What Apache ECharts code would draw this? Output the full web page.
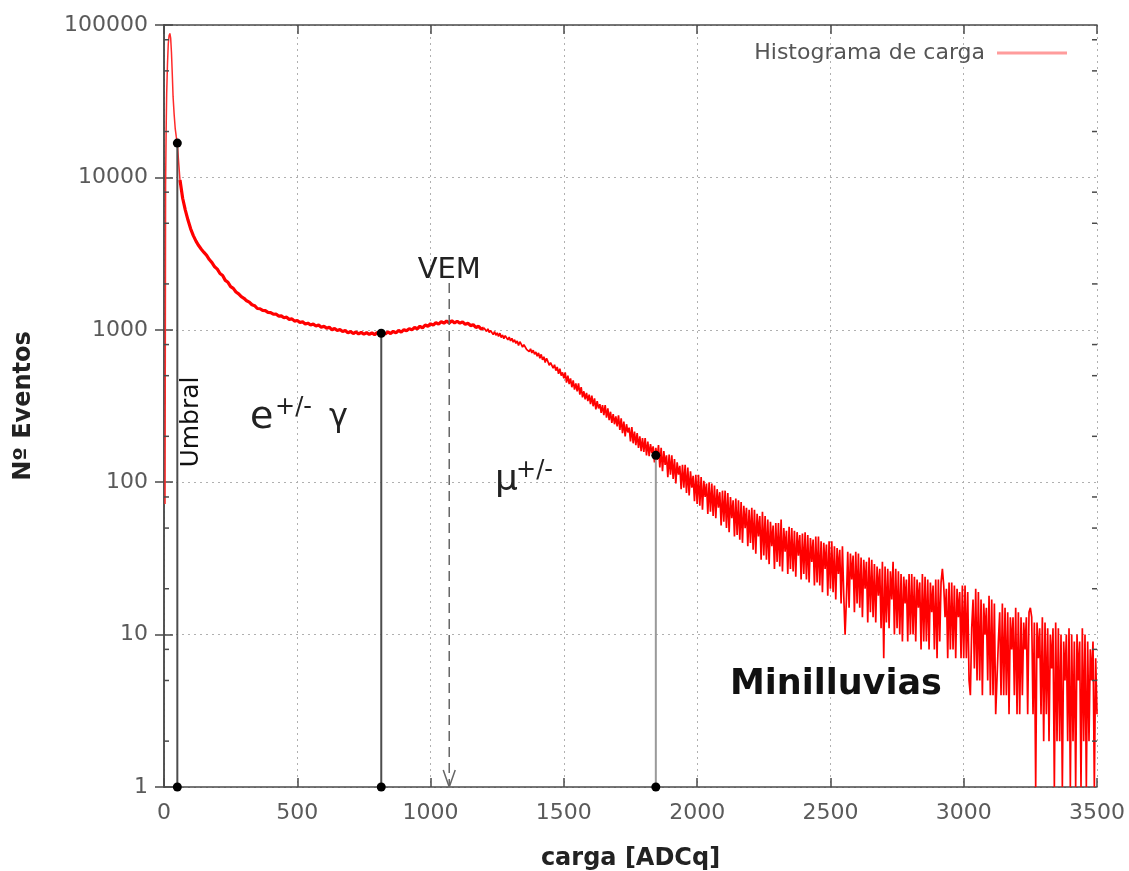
<!DOCTYPE html>
<html>
<head>
<meta charset="utf-8">
<script src="https://cdn.jsdelivr.net/npm/echarts@6/dist/echarts.min.js"></script>
<style>
  html, body { margin: 0; padding: 0; background: #fff; }
  #grafico { width: 1129px; height: 871px; }
</style>
</head>
<body>
<div id="grafico"></div>
<script>
// Histograma de carga (ADCq) — pico de bajo umbral
const cargaPico = [4, 6, 8, 10, 13, 16, 19, 22, 25, 28, 31, 34, 38, 42, 46, 50, 55, 60];
const eventosPico = [72, 9000, 20000, 35000, 55000, 75000, 85000, 88000, 82000, 66000, 48000, 34000, 26000, 21000, 18500, 16800, 12500, 9600];

// Cuerpo del histograma: bines de 10 ADCq desde 70 hasta 1200
const inicioCuerpo = 70;
const pasoCuerpo = 10;
const eventosCuerpo = [
  7300, 6100, 5250, 4600, 4150, 3820, 3570, 3380, 3220,
  3080, 2890, 2760, 2590, 2500, 2340, 2270, 2110, 2050, 1920,
  1870, 1770, 1720, 1650, 1610, 1550, 1520, 1460, 1440, 1380,
  1375, 1340, 1335, 1300, 1295, 1265, 1270, 1230, 1235, 1200,
  1210, 1170, 1180, 1140, 1150, 1115, 1130, 1090, 1105, 1075,
  1090, 1060, 1075, 1040, 1055, 1025, 1040, 1000, 1020, 990,
  1005, 975, 990, 955, 975, 945, 968, 940, 962, 935,
  958, 932, 955, 930, 958, 935, 962, 940, 968, 945,
  978, 955, 990, 965, 1002, 985, 1018, 998, 1035, 1015,
  1055, 1030, 1075, 1055, 1095, 1072, 1115, 1090, 1130, 1105,
  1140, 1108, 1145, 1110, 1138, 1105, 1128, 1085, 1105, 1065,
  1080, 1035, 1055, 1010, 1030
];

// Cola del histograma: bines de 5 ADCq desde 1205 hasta 3500
const inicioCola = 1205;
const pasoCola = 5;
const eventosCola = [
  1040, 975, 1015, 960, 990, 1000, 930, 975, 920, 955,
  905, 950, 890, 925, 875, 915, 905, 860, 895, 845,
  880, 830, 860, 815, 845, 790, 835, 805, 770, 800,
  790, 745, 765, 720, 750, 705, 735, 690, 715, 670,
  705, 650, 690, 635, 665, 610, 650, 620, 585, 610,
  625, 560, 590, 540, 570, 515, 555, 500, 525, 480,
  525, 450, 500, 440, 480, 420, 465, 405, 445, 395,
  445, 375, 420, 360, 395, 350, 385, 340, 375, 325,
  370, 315, 355, 300, 340, 305, 325, 285, 320, 275,
  320, 265, 305, 255, 290, 245, 280, 240, 270, 232,
  275, 220, 262, 210, 250, 200, 240, 212, 228, 185,
  230, 180, 215, 175, 210, 168, 200, 160, 195, 158,
  195, 150, 185, 148, 178, 155, 172, 135, 168, 140,
  175, 125, 168, 118, 160, 130, 150, 108, 152, 112,
  150, 105, 142, 98, 135, 112, 128, 90, 130, 92,
  130, 85, 125, 82, 118, 92, 110, 75, 112, 72,
  112, 70, 108, 66, 102, 80, 98, 62, 100, 64,
  98, 60, 95, 58, 90, 68, 86, 52, 88, 55,
  88, 50, 85, 47, 80, 58, 76, 44, 78, 45,
  76, 42, 74, 40, 70, 50, 68, 38, 66, 40,
  68, 36, 66, 34, 62, 44, 60, 31, 64, 33,
  60, 31, 57, 29, 55, 38, 52, 27, 54, 30,
  54, 28, 57, 26, 50, 35, 48, 25, 51, 27,
  50, 26, 48, 24, 47, 33, 45, 23, 46, 25,
  47, 23, 45, 22, 43, 30, 42, 21, 44, 22,
  44, 21, 41, 19, 40, 27, 39, 18, 41, 20,
  41, 19, 38, 17, 37, 25, 36, 16, 38, 18,
  10, 17, 35, 15, 34, 23, 33, 14, 35, 16,
  34, 15, 32, 13, 31, 20, 30, 12, 32, 14,
  31, 13, 29, 12, 28, 18, 27, 11, 30, 7,
  28, 12, 27, 11, 26, 17, 30, 10, 27, 11,
  26, 10, 25, 9, 24, 16, 23, 9, 25, 10,
  25, 10, 24, 9, 23, 15, 22, 8, 25, 9,
  24, 9, 23, 8, 22, 14, 21, 8, 23, 7,
  23, 9, 22, 27, 21, 13, 20, 7, 22, 8,
  22, 8, 21, 7, 20, 13, 19, 7, 21, 7,
  21, 7, 19, 5, 4, 11, 17, 6, 20, 5,
  19, 5, 17, 4, 16, 10, 15, 5, 18, 4,
  17, 4, 16, 3, 3, 9, 14, 4, 16, 4,
  15, 4, 14, 3, 13, 8, 13, 4, 15, 3,
  14, 3, 13, 4, 12, 8, 13, 3, 14, 15,
  13, 3, 12, 1, 12, 7, 11, 3, 13, 2,
  12, 3, 11, 2, 10, 6, 11, 1, 12, 2,
  11, 2, 10, 1, 9, 5, 10, 2, 11, 1,
  10, 2, 9, 1, 10, 5, 9, 1, 11, 2,
  10, 1, 9, 2, 8, 5, 9, 1, 7, 3
];

// Cortes marcados sobre el histograma: [carga, eventos]
const cortes = [[50, 16800], [815, 950], [1845, 150]];
// Posición del VEM: [carga, altura de la flecha]
const vem = [1070, 2030];

// Marcas del eje Y
const ticksY = [1, 10, 100, 1000, 10000, 100000];
const ticksMenoresY = [2, 5, 8, 20, 50, 80, 200, 500, 800, 2000, 5000, 8000, 20000, 50000, 80000];

const FUENTE = 'DejaVu Sans';
const X_MIN = 0, X_MAX = 3500;
const NOMBRE = 'Histograma de carga';

const datosPico = cargaPico.map((c, i) => [c, eventosPico[i]]);
const datosCuerpo = [datosPico[datosPico.length - 1]]
  .concat(eventosCuerpo.map((v, i) => [inicioCuerpo + i * pasoCuerpo, v]));
const datosCola = [datosCuerpo[datosCuerpo.length - 1]]
  .concat(eventosCola.map((v, i) => [inicioCola + i * pasoCola, v]));

const chart = echarts.init(document.getElementById('grafico'), null, { renderer: 'canvas' });

const ejeComun = {
  axisLine: { show: true, lineStyle: { color: '#4a4a4a', width: 1.5 } },
  axisTick: { show: true, inside: true, length: 9, lineStyle: { color: '#4a4a4a', width: 1.5 } }
};
const rejilla = { show: true, lineStyle: { color: '#b0b0b0', type: [2, 4], width: 1 } };
const tramo = (datos, ancho, color) => ({
  name: NOMBRE, type: 'line', data: datos, showSymbol: false, symbol: 'none',
  color: '#ff0000', lineStyle: { color: color, width: ancho }, z: 2
});

const option = {
  animation: false,
  backgroundColor: '#fff',
  grid: { left: 164, right: 32, top: 25, bottom: 84, containLabel: false, outerBoundsMode: 'none' },
  legend: {
    right: 57,
    top: 37,
    align: 'right',
    itemWidth: 70,
    itemHeight: 3,
    textStyle: { fontFamily: FUENTE, fontSize: 22, color: '#555', padding: [0, 7, 0, 0] },
    data: [{ name: NOMBRE, icon: 'rect', itemStyle: { color: '#ff9c9c' } }]
  },
  xAxis: [
    Object.assign({
      type: 'value', min: X_MIN, max: X_MAX, interval: 500, position: 'bottom',
      name: 'carga [ADCq]', nameLocation: 'middle', nameGap: 60,
      nameTextStyle: { fontFamily: FUENTE, fontSize: 24, fontWeight: 'bold', color: '#222' },
      axisLabel: { fontFamily: FUENTE, fontSize: 22, color: '#5a5a5a', margin: 15, formatter: v => String(v) },
      splitLine: rejilla
    }, ejeComun),
    Object.assign({
      type: 'value', min: X_MIN, max: X_MAX, interval: 500, position: 'top',
      axisLabel: { show: false }, splitLine: { show: false }
    }, ejeComun)
  ],
  yAxis: [
    Object.assign({
      type: 'log', logBase: 10, min: ticksY[0], max: ticksY[ticksY.length - 1], position: 'left',
      name: 'Nº Eventos', nameLocation: 'middle', nameGap: 128,
      nameTextStyle: { fontFamily: FUENTE, fontSize: 24, fontWeight: 'bold', color: '#222' },
      axisLabel: { fontFamily: FUENTE, fontSize: 22, color: '#5a5a5a', margin: 16, formatter: v => String(Math.round(v)) },
      splitLine: rejilla
    }, ejeComun),
    Object.assign({
      type: 'log', logBase: 10, min: ticksY[0], max: ticksY[ticksY.length - 1], position: 'right',
      axisLabel: { show: false }, splitLine: { show: false }
    }, ejeComun)
  ],
  series: [
    tramo(datosPico, 1.5, '#ff2a2a'),
    tramo(datosCuerpo, 3.2, '#ff0000'),
    tramo(datosCola, 1.7, '#ff0000'),
    {
      // marcas menores del eje Y (izquierda y derecha)
      type: 'custom',
      silent: true,
      data: ticksMenoresY.map(v => [X_MIN, v]),
      renderItem: (params, api) => {
        const v = api.value(1);
        const a = api.coord([X_MIN, v]);
        const b = api.coord([X_MAX, v]);
        const st = { stroke: '#4a4a4a', lineWidth: 1.5 };
        return {
          type: 'group', children: [
            { type: 'line', shape: { x1: a[0], y1: a[1], x2: a[0] + 5, y2: a[1] }, style: st },
            { type: 'line', shape: { x1: b[0] - 5, y1: b[1], x2: b[0], y2: b[1] }, style: st }
          ]
        };
      },
      z: 3
    },
    {
      // flecha discontinua del VEM
      type: 'custom',
      silent: true,
      data: [vem],
      renderItem: (params, api) => {
        const top = api.coord([api.value(0), api.value(1)]);
        const bot = api.coord([api.value(0), ticksY[0]]);
        const st = { stroke: '#666', lineWidth: 1.5 };
        return {
          type: 'group', children: [
            { type: 'line', shape: { x1: top[0], y1: top[1], x2: bot[0], y2: bot[1] }, style: Object.assign({ lineDash: [10, 6] }, st) },
            { type: 'line', shape: { x1: bot[0] - 6, y1: bot[1] - 17, x2: bot[0], y2: bot[1] }, style: st },
            { type: 'line', shape: { x1: bot[0] + 6, y1: bot[1] - 17, x2: bot[0], y2: bot[1] }, style: st }
          ]
        };
      },
      z: 4
    },
    {
      // cortes: línea vertical con puntos en ambos extremos
      type: 'custom',
      silent: true,
      data: cortes,
      renderItem: (params, api) => {
        const colores = ['#4d4d4d', '#4d4d4d', '#9a9a9a'];
        const top = api.coord([api.value(0), api.value(1)]);
        const bot = api.coord([api.value(0), ticksY[0]]);
        return {
          type: 'group', children: [
            { type: 'line', shape: { x1: top[0], y1: top[1], x2: bot[0], y2: bot[1] }, style: { stroke: colores[params.dataIndex], lineWidth: 2 } },
            { type: 'circle', shape: { cx: top[0], cy: top[1], r: 4.5 }, style: { fill: '#000' } },
            { type: 'circle', shape: { cx: bot[0], cy: bot[1], r: 4.5 }, style: { fill: '#000' } }
          ]
        };
      },
      z: 5
    }
  ]
};

chart.setOption(option);

// Etiquetas de texto ancladas a coordenadas de datos
const px = p => chart.convertToPixel({ xAxisIndex: 0, yAxisIndex: 0 }, p);
const texto = (p, txt, size, extra) => Object.assign({
  type: 'text', x: p[0], y: p[1], z: 20,
  style: Object.assign({ text: txt, fontFamily: FUENTE, fontSize: size, fill: '#222', align: 'left', verticalAlign: 'middle' }, extra || {})
});

const pVem = px(vem);
const pUmbral = px([cortes[0][0], 248]);
const pE = px([323, 264]);
const pMu = px([1242, 103]);
const pMini = px([2123, 4.7]);

chart.setOption({
  graphic: [
    texto([pVem[0], pVem[1] - 12], 'VEM', 29, { align: 'center' }),
    Object.assign(texto([pUmbral[0] + 14, pUmbral[1]], 'Umbral', 25, { align: 'center', fill: '#111' }), { rotation: Math.PI / 2 }),
    texto(pE, 'e', 38),
    texto([pE[0] + 25, pE[1] - 10], '+/-', 24),
    texto([pE[0] + 79, pE[1]], 'γ', 32),
    texto(pMu, 'μ', 36),
    texto([pMu[0] + 21, pMu[1] - 9], '+/-', 24),
    texto(pMini, 'Minilluvias', 35, { fontWeight: 'bold', fill: '#111' })
  ]
});
</script>
</body>
</html>
